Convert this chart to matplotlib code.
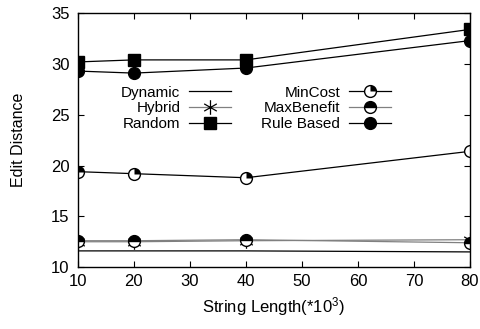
import numpy as np
import matplotlib
matplotlib.use("Agg")
import matplotlib.pyplot as plt
from matplotlib.path import Path
from matplotlib.legend_handler import HandlerTuple

plt.rcParams['font.family'] = ['Liberation Sans', 'DejaVu Sans']
plt.rcParams['mathtext.fontset'] = 'custom'
plt.rcParams['mathtext.rm'] = 'Liberation Sans'
plt.rcParams['mathtext.it'] = 'Liberation Sans'
plt.rcParams['font.size'] = 11

x = [10, 20, 40, 80]
dynamic = [11.6, 11.6, 11.6, 11.5]
hybrid = [12.5, 12.5, 12.6, 12.7]
random_ = [30.2, 30.4, 30.4, 33.4]
mincost = [19.4, 19.2, 18.8, 21.4]
maxbenefit = [12.6, 12.6, 12.7, 12.4]
rulebased = [29.3, 29.1, 29.6, 32.3]

fig = plt.figure(figsize=(4.81, 3.29), dpi=100)
ax = fig.add_axes([0.162, 0.188, 0.815, 0.772])

lw = 0.9
ms = 8.5
gray = '#808080'

# gnuplot-like asterisk: vertical stroke plus two diagonals
c, s_ = np.cos(np.radians(30)), np.sin(np.radians(30))
star = Path([(0, -1), (0, 1), (-c, -s_), (c, s_), (-c, s_), (c, -s_)],
            [Path.MOVETO, Path.LINETO] * 3)
# filled upper-right quarter of a circle
th = np.linspace(0, np.pi / 2, 20)
qv = np.vstack([[0, 0], np.column_stack([np.cos(th), np.sin(th)]), [0, 0],
                [-1, 0], [0, -1]])
quarter = Path(qv, [Path.MOVETO] + [Path.LINETO] * 21 + [Path.MOVETO, Path.MOVETO])

h_dyn, = ax.plot(x, dynamic, color='black', lw=lw, zorder=5)
h_hyb, = ax.plot(x, hybrid, color=gray, lw=lw, marker=star, ms=ms + 2,
                 mec='black', mew=0.9)
h_rnd, = ax.plot(x, random_, color='black', lw=lw, marker='s', ms=ms,
                 mfc='black', mec='black')
h_min1, = ax.plot(x, mincost, color='black', lw=lw, marker='o', ms=ms,
                  mfc='white', mec='black', mew=1.0)
h_min2, = ax.plot(x, mincost, ls='none', marker=quarter, ms=ms,
                  mfc='black', mec='none', mew=0)
h_max, = ax.plot(x, maxbenefit, color=gray, lw=lw, marker='o', ms=ms,
                 fillstyle='top', mfc='black', mfcalt='white', mec='black', mew=1.0)
h_rule, = ax.plot(x, rulebased, color='black', lw=lw, marker='o', ms=ms,
                  mfc='black', mec='black')

ax.set_xlim(10, 80)
ax.set_ylim(10, 35)
ax.set_xticks(np.arange(10, 81, 10))
ax.set_yticks(np.arange(10, 36, 5))
ax.tick_params(direction='in', top=True, right=True, length=4, width=0.8,
               labelsize=12)
ax.tick_params(axis='x', pad=5)
ax.tick_params(axis='y', pad=6)
for sp in ax.spines.values():
    sp.set_linewidth(1.0)

ax.set_xlabel('String Length(*10$^{3}$)', fontsize=12)
ax.set_ylabel('Edit Distance', fontsize=11.5, labelpad=18)

ax.legend([h_dyn, h_hyb, h_rnd, (h_min1, h_min2), h_max, h_rule],
          ['Dynamic', 'Hybrid', 'Random', 'MinCost', 'MaxBenefit', 'Rule Based'],
          handler_map={tuple: HandlerTuple(ndivide=1)},
          ncol=2, markerfirst=False, frameon=False, loc='upper left',
          bbox_to_anchor=(0.11, 0.715), borderpad=0, borderaxespad=0,
          handlelength=2.7, handletextpad=0.6, columnspacing=2.0,
          labelspacing=0.12, fontsize=11)

fig.savefig('out.png', dpi=100)
